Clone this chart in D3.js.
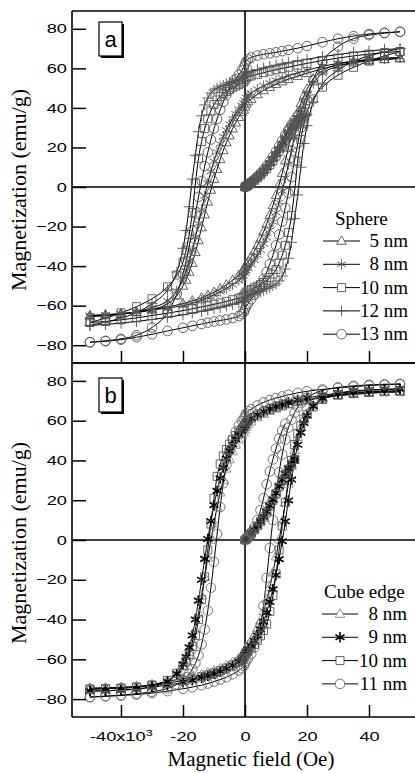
<!DOCTYPE html>
<html>
<head>
<meta charset="utf-8">
<title></title>
<style>
body { margin: 0; background: #fff; }
svg { display: block; }
.border { stroke: #000; stroke-width: 1.6px; }
.curve { fill: none; stroke: #000; stroke-width: 1px; }
.tick line { stroke: #000; stroke-width: 1.5px; }
</style>
</head>
<body>
<script src="https://cdn.jsdelivr.net/npm/d3@7"></script>
<script>

// magnetic field steps, x10^3 Oe
var fieldDown = [50,45,40,35,30,25,20,17,14,12,10,8,6,4,2,1,0.4,0,-0.4,-1,-2,-3,-4,-5,-6,-7,-8,-9,-10,-11,-12,-13,-14,-15,-16,-17,-18,-19,-20,-22,-25,-30,-35,-40,-45,-50];
var fieldUp = [-50,-45,-40,-35,-30,-25,-20,-17,-14,-12,-10,-8,-6,-4,-2,-1,-0.4,0,0.4,1,2,3,4,5,6,7,8,9,10,11,12,13,14,15,16,17,18,19,20,22,25,30,35,40,45,50];
var fieldVirgin = [0,0.3,0.6,1,1.5,2,3,4,5,6,7,8,9,10,11,12,13,14,15,16,17,18,19,20,21,22];

// (a) spheres, magnetization emu/g
var sphereNames = ["5 nm", "8 nm", "10 nm", "12 nm", "13 nm"];
var sphereMarks = ["triangle", "asterisk", "square", "plus", "circle"];

var sphere5Down = [65,64.5,63.8,62.8,61.5,59.8,57.5,56,54.5,53.3,52,50.5,48.8,46.8,44.5,43.2,42,40.5,39,37.8,35.3,32.5,29.5,26,22.5,18.5,14,9,4,-1.5,-7.5,-14,-20.5,-27,-33,-38.5,-43,-47,-50,-55,-59,-62,-63.5,-64.2,-64.6,-65];
var sphere5Up = [-65.5,-65,-64.3,-63.3,-62,-60.6,-59,-57.6,-56,-54.7,-53.2,-51.5,-49.5,-47.2,-44.6,-43.2,-42,-40.5,-39,-37.8,-35.3,-32.5,-29.5,-26.2,-22.6,-18.6,-14.2,-9.3,-4.2,1.2,7,13.3,19.8,26,32,37.5,42.2,46.2,49.5,54.7,58.8,62,63.5,64.2,64.6,65];
var sphere5Virgin = [0,0.3,0.7,1.2,1.8,2.5,3.8,5.2,6.8,8.5,10.4,12.5,14.8,17.3,20,23,26.5,30,32,33.5];

var sphere8Down = [65.5,65,64.5,63.7,62.5,61,59,57.7,56.3,55.2,54,52.7,51.2,49.5,47.5,46.3,45.2,43.8,42.5,41.3,39.3,37,34.5,31.8,28.8,25.5,21.8,17.7,13,7.8,2,-4.5,-11.5,-18.5,-25.5,-32,-37.5,-42.5,-46.5,-52.5,-57.5,-61,-63,-64.2,-65,-65.5];
var sphere8Up = [-65,-64.6,-64,-63.2,-62.2,-61.2,-60,-58.8,-57.2,-56,-54.6,-53,-51.3,-49.4,-47.3,-46.1,-45,-43.6,-42.3,-41.2,-39.2,-37,-34.5,-31.8,-28.8,-25.5,-21.8,-17.7,-13,-7.8,-2,4.5,11.5,18.5,25.5,32,37.5,42.5,46.5,52.5,57.5,61,63,64.2,65,65.5];
var sphere8Virgin = [0,0.3,0.7,1.1,1.7,2.4,3.6,5,6.5,8.2,10,12,14.2,16.6,19.2,22,25,28,30.5,32.8,34.8,37.5];

var sphere10Down = [68.5,68,67.2,66.3,65.2,64,62.5,61.6,60.6,60,59.3,58.6,57.8,57,56.2,55.8,55.2,54.2,53.2,52.5,51.8,51,50.2,49.3,48.3,47.2,45.8,44,41.7,38.5,34.5,29.5,23,14.5,2,-13,-24,-32,-38,-44.5,-50.5,-56.5,-60.5,-63.7,-66.3,-68.5];
var sphere10Up = [-68.5,-68,-67.2,-66.2,-65,-63.8,-62.5,-61.6,-60.6,-60,-59.3,-58.6,-57.8,-57,-56.2,-55.8,-55.2,-54.2,-53.2,-52.5,-51.8,-51,-50.2,-49.3,-48.3,-47.2,-45.8,-44,-41.7,-38.5,-34.5,-29.5,-23,-14.5,-2,13,24,32,38,44.5,50.5,56.5,60.5,63.7,66.3,68.5];
var sphere10Virgin = [0,0.3,0.6,1,1.6,2.2,3.4,4.7,6.1,7.7,9.4,11.3,13.4,15.7,18.1,20.6,23.2,25.8,28.3,30.6,32.7,34,35];

var sphere12Down = [70,69.5,68.8,68,67,65.9,64.6,63.8,62.9,62.3,61.6,61,60.2,59.4,58.6,58.1,57.6,56.7,55.8,55.2,54.6,54,53.4,52.8,52.1,51.4,50.7,49.9,49,47.5,45,41.5,36,28,16,4,-10,-22,-31,-43,-52,-59,-63.5,-66.3,-68.3,-70];
var sphere12Up = [-70,-69.5,-68.8,-68,-67,-65.9,-64.6,-63.8,-62.9,-62.3,-61.6,-61,-60.2,-59.4,-58.6,-58.1,-57.6,-56.7,-55.8,-55.2,-54.6,-54,-53.4,-52.8,-52.1,-51.4,-50.7,-49.9,-49,-47.5,-45,-41.5,-36,-28,-16,-4,10,22,31,43,52,59,63.5,66.3,68.3,70];
var sphere12Virgin = [0,0.3,0.6,1,1.5,2.1,3.2,4.4,5.8,7.3,9,10.9,13,15.3,17.7,20.2,22.7,25.2,27.6,29.8,31.8,33.5,35,36.5];

var sphere13Down = [78.5,78,77.4,76.3,75,73.2,71.3,70.2,69.3,68.7,68.1,67.6,67.1,66.5,65.5,64.5,63.5,62,60.5,59,56.8,54.6,52.2,49.5,46.5,43,39,34.5,29.5,24,17.5,10.5,3,-5,-13.5,-22,-30,-37.5,-44,-54,-63.5,-71,-75,-76.8,-77.8,-78.5];
var sphere13Up = [-78.5,-78,-77.2,-76,-74.5,-72.8,-71.2,-70.2,-69.3,-68.6,-68,-67.5,-67,-66.3,-65.3,-64.3,-63.3,-61.8,-60.3,-59,-56.8,-54.6,-52.2,-49.5,-46.5,-43,-39,-34.5,-29.5,-24,-17.5,-10.5,-3,5,13.5,22,30,37.5,44,54,63.5,71,75,76.8,77.8,78.5];
var sphere13Virgin = [0,0.3,0.7,1.2,1.8,2.5,3.8,5.3,6.9,8.7,10.7,12.9,15.3,17.9,20.6,23.4,26.2,29,31.5,33.8,36,38];

// (b) cubes, magnetization emu/g
var cubeNames = ["8 nm", "9 nm", "10 nm", "11 nm"];
var cubeMarks = ["triangle", "asterisk", "square", "circle"];

var cube8Down = [74.5,74.2,73.8,73.2,72.5,71.5,70.2,69.2,68,67,66,64.8,63.3,61.6,59.5,58.3,57,55.5,54,52.8,50.5,47.8,44.5,40.5,35.8,30.2,23.8,16.5,8.5,0,-9,-18.5,-28,-37,-45,-51.5,-56.5,-60.5,-63.5,-67.5,-70.8,-72.8,-73.7,-74.1,-74.4,-74.5];
var cube8Up = [-74.5,-74.4,-74.1,-73.7,-72.8,-71,-69.8,-68.9,-67.8,-66.8,-65.8,-64.6,-63.2,-61.5,-59.4,-58.2,-56.9,-55.4,-53.9,-52.7,-50.4,-47.7,-44.4,-40.4,-35.7,-30.1,-23.7,-16.4,-8.4,0.2,9.2,18.7,28.2,37.2,45.2,51.7,56.7,60.6,63.6,67.6,70.9,72.8,73.7,74.1,74.4,74.5];
var cube8Virgin = [0,0.4,0.9,1.6,2.5,3.4,5.3,7.3,9.5,11.9,14.5,17.4,20.5,23.8,27.3,30.5,33.5,36,38];

var cube9Down = [76,75.6,75.2,74.6,73.8,72.8,71.4,70.4,69.2,68.2,67.2,66,64.6,63,61.2,60.1,59,57.6,56.2,55,53,50.7,48,44.8,41,36.4,31,24.7,17.5,9.5,0.5,-9.5,-20,-30.5,-40,-48,-54,-58.8,-62.5,-67.3,-71.2,-73.8,-75,-75.5,-75.8,-76];
var cube9Up = [-76,-75.8,-75.5,-74.9,-74,-73,-71.6,-70.5,-69.3,-68.3,-67.3,-66.1,-64.7,-63.1,-61.3,-60.2,-59.1,-57.7,-56.3,-55.1,-53.1,-50.8,-48.1,-44.9,-41.1,-36.5,-31.1,-24.8,-17.6,-9.6,-0.6,9.4,19.9,30.4,39.9,47.9,54,58.8,62.5,67.3,71.2,73.8,75,75.5,75.8,76];
var cube9Virgin = [0,0.4,0.9,1.6,2.5,3.4,5.2,7.2,9.3,11.7,14.3,17.2,20.3,23.6,27,30.3,33.3,36,38.5,41];

var cube10Down = [75,74.7,74.3,73.7,73,72,70.7,69.8,68.7,67.8,66.8,65.7,64.4,62.9,61.2,60.2,59.2,58,56.8,55.8,54.2,52.5,50.5,48.2,45.5,42.3,38.2,32,21,8,-5,-18.5,-30,-40,-48,-53.5,-57.5,-60.8,-63.2,-67,-70.6,-73,-74,-74.5,-74.8,-75];
var cube10Up = [-75,-74.8,-74.5,-74,-73,-72,-70.7,-69.8,-68.7,-67.8,-66.8,-65.7,-64.4,-62.9,-61.2,-60.2,-59.2,-58,-56.8,-55.8,-54.2,-52.5,-50.5,-48.2,-45.5,-42.3,-36,-28,-17,-5,7,19,30,40,48,53.5,57.5,60.8,63.2,67,70.6,73,74,74.5,74.8,75];
var cube10Virgin = [0,0.4,0.9,1.6,2.5,3.3,5.1,7.1,9.2,11.5,14.1,17,20,23.3,26.7,30,33,35.7,38.2,40.5];

var cube11Down = [78.3,78,77.7,77.1,76.5,75.7,74.8,74,73,72.2,71.4,70.4,69.2,67.7,65.8,64.7,63.6,62.3,61,59.8,57.5,54.5,50.5,45,38,28.5,16.5,3,-11,-24,-35.5,-45,-52.5,-58,-62,-65,-67.3,-69,-70.5,-72.6,-74.6,-76.3,-77.3,-78,-78.5,-79];
var cube11Up = [-79,-78.6,-78.2,-77.7,-77,-76,-74.8,-74,-73,-72.2,-71.2,-70.2,-69,-67.5,-65.6,-64.5,-63.4,-62,-60.7,-59.5,-57.2,-54,-49.5,-43,-33,-19,-4,10,23,34,43,50.5,56.5,60.5,64,66.8,68.8,70.3,71.6,73.4,75.2,76.7,77.5,78,78.3,78.5];
var cube11Virgin = [0,0.4,1,1.8,2.8,3.9,6.5,10,15,21,28,34.5,40.5,46,51,55,58.5];

var xTicks = [-40, -20, 0, 20, 40];
var xTickLabels = ["-40x10", "-20", "0", "20", "40"];
var yTicks = [-80, -60, -40, -20, 0, 20, 40, 60, 80];

var SERIF = "'Liberation Serif', 'Times New Roman', Times, serif";
var SANS = "'Liberation Sans', Arial, Helvetica, sans-serif";

var width = 415,
    height = 773,
    left = 72,
    right = 418;

var svg = d3.select("body").append("svg")
    .attr("width", width)
    .attr("height", height);

var x = d3.scaleLinear().domain([-55.8, 55.8]).range([left, right]);

function pairs(fields, values) {
  return values.map(function(v, i) { return [fields[i], v]; });
}

function markPath(type) {
  if (type == "triangle") return "M0,-5.2L4.8,3.3L-4.8,3.3Z";
  if (type == "square") return "M-4,-4H4V4H-4Z";
  if (type == "circle") return "M4.8,0A4.8,4.8 0 1,1 -4.8,0A4.8,4.8 0 1,1 4.8,0Z";
  if (type == "plus") return "M-5.5,0H5.5M0,-5.5V5.5";
  // asterisk
  return "M0,-5.2V5.2M-4.5,-2.6L4.5,2.6M-4.5,2.6L4.5,-2.6";
}

var sphereSeries = [
  {down: sphere5Down, up: sphere5Up, virgin: sphere5Virgin},
  {down: sphere8Down, up: sphere8Up, virgin: sphere8Virgin},
  {down: sphere10Down, up: sphere10Up, virgin: sphere10Virgin},
  {down: sphere12Down, up: sphere12Up, virgin: sphere12Virgin},
  {down: sphere13Down, up: sphere13Up, virgin: sphere13Virgin}
];
sphereSeries.forEach(function(s, i) {
  s.name = sphereNames[i];
  s.mark = sphereMarks[i];
  s.color = "#555";
  s.weight = 0.9;
});

var cubeSeries = [
  {down: cube8Down, up: cube8Up, virgin: cube8Virgin, color: "#8a8a8a", weight: 0.9},
  {down: cube9Down, up: cube9Up, virgin: cube9Virgin, color: "#000", weight: 1.6},
  {down: cube10Down, up: cube10Up, virgin: cube10Virgin, color: "#555", weight: 0.9},
  {down: cube11Down, up: cube11Up, virgin: cube11Virgin, color: "#666", weight: 0.9}
];
cubeSeries.forEach(function(s, i) {
  s.name = cubeNames[i];
  s.mark = cubeMarks[i];
});

function serifText(sel, size) {
  return sel.append("text")
    .attr("font-family", SERIF)
    .style("font-family", SERIF)
    .style("font-size", size + "px")
    .style("fill", "#000");
}

function drawPanel(id, top, bottom, series, label, legendTitle, legend, showLabels) {
  var y = d3.scaleLinear().domain([-89, 89]).range([bottom, top]);
  var g = svg.append("g");

  svg.append("clipPath").attr("id", "clip" + id)
    .append("rect")
    .attr("x", left).attr("y", top)
    .attr("width", right - left).attr("height", bottom - top);

  var line = d3.line()
      .x(function(d) { return x(d[0]); })
      .y(function(d) { return y(d[1]); })
      .curve(d3.curveMonotoneX);

  var plot = g.append("g").attr("clip-path", "url(#clip" + id + ")");

  // zero lines
  plot.append("line").attr("class", "border")
    .attr("x1", left).attr("x2", right).attr("y1", y(0)).attr("y2", y(0));
  plot.append("line").attr("class", "border")
    .attr("x1", x(0)).attr("x2", x(0)).attr("y1", top).attr("y2", bottom);

  series.forEach(function(s) {
    var down = pairs(fieldDown, s.down);
    var up = pairs(fieldUp, s.up);
    var virgin = pairs(fieldVirgin, s.virgin);
    s.points = down.concat(up).concat(virgin);

    [down.slice().reverse(), up, virgin].forEach(function(branch) {
      plot.append("path")
        .attr("class", "curve")
        .attr("d", line(branch));
    });
  });

  series.forEach(function(s) {
    plot.append("g").selectAll("path")
      .data(s.points)
      .enter().append("path")
      .attr("transform", function(d) { return "translate(" + x(d[0]) + "," + y(d[1]) + ")"; })
      .attr("d", markPath(s.mark))
      .style("fill", "none")
      .style("stroke", s.color)
      .style("stroke-width", s.weight);
  });

  // y axis, ticks inside
  var yAxis = g.append("g")
    .attr("transform", "translate(" + left + ",0)")
    .call(d3.axisLeft(y).tickValues(yTicks).tickSize(-14).tickPadding(3.6));
  yAxis.select(".domain").remove();
  yAxis.selectAll("text")
    .attr("transform", "scale(1.4,1)")
    .style("font-family", SANS).style("font-size", "13px").style("fill", "#000");

  // x axis, ticks inside
  var xAxis = g.append("g")
    .attr("transform", "translate(0," + bottom + ")")
    .call(d3.axisBottom(x).tickValues(xTicks).tickSize(-12).tickPadding(15)
      .tickFormat(function(d, i) { return showLabels ? xTickLabels[i] : ""; }));
  xAxis.select(".domain").remove();
  xAxis.selectAll("text")
    .attr("transform", "scale(1.4,1)")
    .style("font-family", SANS).style("font-size", "13px").style("fill", "#000");
  if (showLabels) {
    xAxis.select(".tick text")
      .append("tspan")
      .attr("dy", "-0.55em")
      .style("font-size", "9.5px")
      .text("3");
  }

  // frame
  g.append("line").attr("class", "border")
    .attr("x1", left).attr("x2", left).attr("y1", top).attr("y2", bottom);
  g.append("line").attr("class", "border")
    .attr("x1", left).attr("x2", right).attr("y1", top).attr("y2", top);
  g.append("line").attr("class", "border")
    .attr("x1", left).attr("x2", right).attr("y1", bottom).attr("y2", bottom);

  // panel letter
  var bx = 99, by = label.top;
  g.append("rect")
    .attr("x", bx + 2).attr("y", by + 2).attr("width", 23).attr("height", 34)
    .style("fill", "#000");
  g.append("rect")
    .attr("x", bx).attr("y", by).attr("width", 23).attr("height", 34)
    .style("fill", "#fff").style("stroke", "#000").style("stroke-width", 1.2);
  g.append("text")
    .attr("x", bx + 11.5).attr("y", by + 25)
    .attr("text-anchor", "middle")
    .style("font-family", SANS).style("font-size", "22px")
    .text(label.text);

  // legend
  serifText(g, 19)
    .attr("x", legend.titleX).attr("y", legend.titleY)
    .text(legendTitle);

  series.forEach(function(s, i) {
    var ly = legend.titleY + 22 + i * 23.3;
    var cy = ly - 6;
    g.append("line")
      .attr("x1", legend.x0).attr("x2", legend.x1)
      .attr("y1", cy).attr("y2", cy)
      .style("stroke", "#000").style("stroke-width", 1);
    g.append("path")
      .attr("transform", "translate(" + ((legend.x0 + legend.x1) / 2) + "," + cy + ")")
      .attr("d", markPath(s.mark))
      .style("fill", s.mark == "plus" || s.mark == "asterisk" ? "none" : "#fff")
      .style("stroke", s.color)
      .style("stroke-width", s.weight);
    serifText(g, 19)
      .attr("x", legend.textX).attr("y", ly)
      .attr("text-anchor", "end")
      .text(s.name);
  });

  // y label
  serifText(g, 22)
    .attr("transform", "translate(26," + ((top + bottom) / 2 + 3) + ") rotate(-90)")
    .attr("text-anchor", "middle")
    .text("Magnetization (emu/g)");
}

drawPanel("a", 11, 363, sphereSeries, {text: "a", top: 22}, "Sphere",
  {titleX: 335, titleY: 225, x0: 323, x1: 360, textX: 408}, false);
drawPanel("b", 363, 717, cubeSeries, {text: "b", top: 378}, "Cube edge",
  {titleX: 324, titleY: 598, x0: 322, x1: 358, textX: 407}, true);

serifText(svg, 21)
  .attr("x", 251).attr("y", 766)
  .attr("text-anchor", "middle")
  .text("Magnetic field (Oe)");

</script>
</body>
</html>
